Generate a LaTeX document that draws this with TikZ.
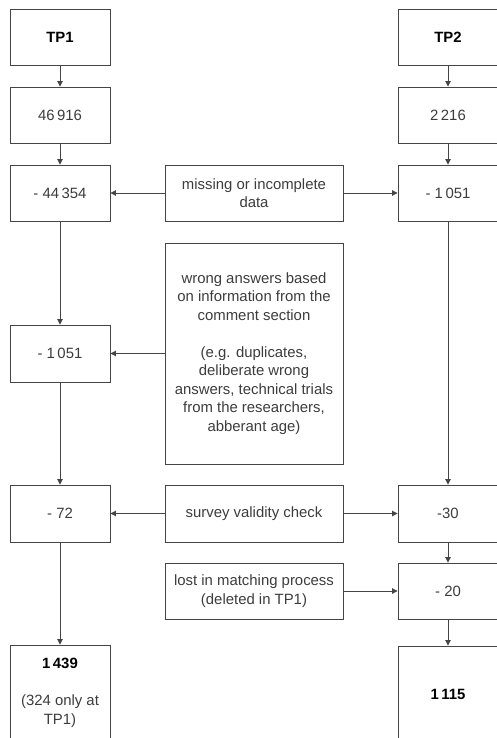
\documentclass[tikz,border=0pt]{standalone}
\usepackage{fontspec}
\setmainfont{Liberation Sans}
\usetikzlibrary{arrows.meta}
\definecolor{ink}{HTML}{3C3C3C}
\definecolor{edge}{HTML}{454545}
\begin{document}
\begin{tikzpicture}[x=1pt,y=-1pt,
  box/.style={draw=edge,line width=0.9pt,rectangle,inner sep=0pt,align=center,text=ink,
    font=\fontsize{14.9}{18.5}\selectfont},
  side/.style={box,minimum width=100pt},
  mid/.style={box,minimum width=178pt},
  strong/.style={text=black,font=\fontsize{14.9}{18.5}\selectfont\bfseries},
  conn/.style={draw=edge,line width=0.9pt,-{Triangle[length=5.5pt,width=5.5pt]}}]
\useasboundingbox (0,0) rectangle (497,738);
\begin{scope}
\clip (0,0) rectangle (497,738);
% left column
\node[side,minimum height=56pt,strong] (tp1) at (60,37) {TP1};
\node[side,minimum height=56pt] (n46) at (60,115) {46\,916};
\node[side,minimum height=56pt] (l44) at (60,193) {- 44\,354};
\node[side,minimum height=57pt] (l1051) at (60,353.5) {- 1\,051};
\node[side,minimum height=57pt] (l72) at (60,513.5) {- 72};
\node[side,minimum height=96pt] (l1439) at (60,693) {\textbf{\color{black}1\,439}\\[18.5pt](324 only at\\TP1)};
% right column
\node[side,minimum height=56pt,strong] (tp2) at (448,37) {TP2};
\node[side,minimum height=56pt] (n2216) at (448,115) {2\,216};
\node[side,minimum height=56pt] (r1051) at (448,193) {- 1\,051};
\node[side,minimum height=57pt] (r30) at (448,513.5) {-30};
\node[side,minimum height=56pt] (r20) at (448,591) {- 20};
\node[side,minimum height=96pt,strong] (r1115) at (448,694) {1\,115};
% middle column
\node[mid,minimum height=56pt] (miss) at (254,193) {missing or incomplete\\data};
\node[mid,minimum height=221pt] (wrong) at (254,353.5) {wrong answers based\\on information from the\\comment section\\[18.5pt](e.g. duplicates,\\deliberate wrong\\answers, technical trials\\from the researchers,\\abberant age)};
\node[mid,minimum height=57pt] (survey) at (254,513.5) {survey validity check};
\node[mid,minimum height=56pt] (lost) at (254,591) {lost in matching process\\(deleted in TP1)};
\end{scope}
% vertical connectors
\draw[conn] (tp1) -- (n46);
\draw[conn] (n46) -- (l44);
\draw[conn] (l44) -- (l1051);
\draw[conn] (l1051) -- (l72);
\draw[conn] (l72) -- (l1439);
\draw[conn] (tp2) -- (n2216);
\draw[conn] (n2216) -- (r1051);
\draw[conn] (r1051) -- (r30);
\draw[conn] (r30) -- (r20);
\draw[conn] (r20) -- (r1115);
% horizontal connectors
\draw[conn] (miss) -- (l44);
\draw[conn] (miss) -- (r1051);
\draw[conn] (wrong) -- (l1051);
\draw[conn] (survey) -- (l72);
\draw[conn] (survey) -- (r30);
\draw[conn] (lost) -- (r20);
\end{tikzpicture}
\end{document}
